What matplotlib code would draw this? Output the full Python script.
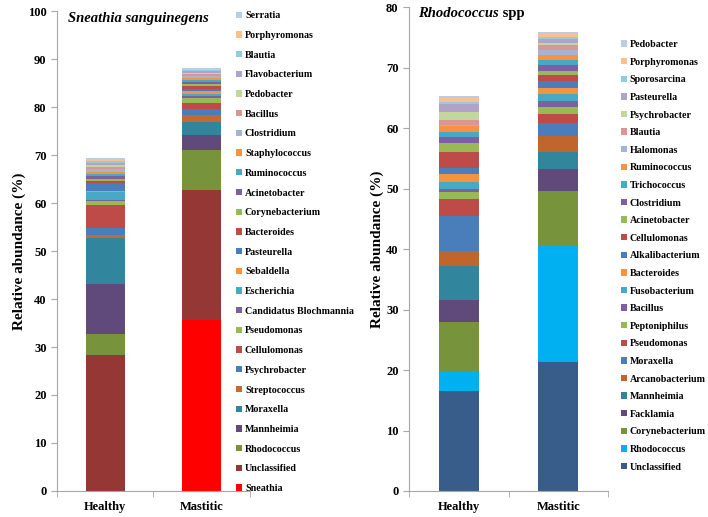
import numpy as np
import matplotlib.pyplot as plt

plt.rcParams['font.family'] = ['Liberation Serif', 'DejaVu Serif']
plt.rcParams['font.weight'] = 'bold'

groups = ['Healthy', 'Mastitic']

# left panel - Sneathia sanguinegens (bottom to top of the stack)
taxa_s = ['Sneathia', 'Unclassified', 'Rhodococcus', 'Mannheimia', 'Moraxella',
          'Streptococcus', 'Psychrobacter', 'Cellulomonas', 'Pseudomonas',
          'Candidatus Blochmannia', 'Escherichia', 'Sebaldella', 'Pasteurella',
          'Bacteroides', 'Corynebacterium', 'Acinetobacter', 'Ruminococcus',
          'Staphylococcus', 'Clostridium', 'Bacillus', 'Pedobacter',
          'Flavobacterium', 'Blautia', 'Porphyromonas', 'Serratia']
healthy_s = [0.0, 28.3, 4.4, 10.5, 9.6, 0.5, 1.5, 4.8, 0.8, 0.2, 1.7, 0.1, 1.7,
             0.5, 0.5, 0.6, 0.4, 0.4, 0.5, 0.5, 0.5, 0.4, 0.3, 0.5, 0.2]
mastitic_s = [35.7, 27.0, 8.4, 3.1, 2.7, 1.4, 1.3, 1.3, 0.9, 0.5, 0.5, 0.5, 0.5,
              0.5, 0.5, 0.4, 0.4, 0.4, 0.4, 0.4, 0.3, 0.3, 0.3, 0.3, 0.2]
colors_s = ['#FF0000', '#953735', '#77933C', '#604A7B', '#31859C', '#C6692C',
            '#4A7EBB', '#BE4B48', '#98B954', '#7D60A0', '#46AAC5', '#F69240',
            '#4A7EBB', '#BE4B48', '#98B954', '#7D60A0', '#46AAC5', '#F69240',
            '#A5B4D3', '#D99694', '#C3D69B', '#B3A2C7', '#93CDDD', '#FAC090',
            '#B9CDE5']

# right panel - Rhodococcus spp
taxa_r = ['Unclassified', 'Rhodococcus', 'Corynebacterium', 'Facklamia',
          'Mannheimia', 'Arcanobacterium', 'Moraxella', 'Pseudomonas',
          'Peptoniphilus', 'Bacillus', 'Fusobacterium', 'Bacteroides',
          'Alkalibacterium', 'Cellulomonas', 'Acinetobacter', 'Clostridium',
          'Trichococcus', 'Ruminococcus', 'Halomonas', 'Blautia',
          'Psychrobacter', 'Pasteurella', 'Sporosarcina', 'Porphyromonas',
          'Pedobacter']
healthy_r = [16.5, 3.2, 8.3, 3.6, 5.6, 2.5, 5.8, 2.7, 1.3, 0.5, 1.1, 1.3, 1.0,
             2.6, 1.6, 1.0, 0.7, 1.0, 0.2, 0.8, 1.3, 1.3, 0.4, 0.7, 0.3]
mastitic_r = [21.3, 19.2, 9.1, 3.7, 2.7, 2.7, 2.1, 1.5, 1.1, 1.1, 1.1, 1.0, 1.1,
              1.0, 0.8, 0.9, 0.8, 0.9, 0.8, 0.8, 0.4, 0.6, 0.4, 0.4, 0.3]
colors_r = ['#385D8A', '#00B0F0', '#77933C', '#604A7B', '#31859C', '#C0652B',
            '#4A7EBB', '#BE4B48', '#98B954', '#7D60A0', '#46AAC5', '#F69240',
            '#4A7EBB', '#BE4B48', '#98B954', '#7D60A0', '#46AAC5', '#F69240',
            '#A5B4D3', '#D99694', '#C3D69B', '#B3A2C7', '#93CDDD', '#FAC090',
            '#B9CDE5']


def draw_panel(ax, taxa, healthy, mastitic, colors, ymax, leg_xy, leg_space):
    x = np.arange(len(groups))
    bottom = np.zeros(len(groups))
    for name, h, m, c in zip(taxa, healthy, mastitic, colors):
        vals = np.array([h, m])
        ax.bar(x, vals, 0.4, bottom=bottom, color=c, label=name)
        bottom += vals
    ax.set_xlim(-0.5, 1.5)
    ax.set_ylim(0, ymax)
    ax.set_yticks(np.arange(0, ymax + 1, 10))
    ax.set_xticks(x)
    ax.set_xticklabels(groups, fontsize=9)
    ax.set_xticks([-0.5, 0.5, 1.5], minor=True)
    ax.tick_params(axis='x', which='major', length=0, pad=7)
    ax.tick_params(axis='x', which='minor', length=4, color='#A6A6A6')
    ax.tick_params(axis='y', length=4, color='#A6A6A6', labelsize=9)
    for s in ['top', 'right']:
        ax.spines[s].set_visible(False)
    for s in ['left', 'bottom']:
        ax.spines[s].set_color('#A6A6A6')
    ax.set_ylabel('Relative abundance (%)', fontsize=11, fontweight='bold', labelpad=1.5)
    handles, labels = ax.get_legend_handles_labels()
    ax.legend(handles[::-1], labels[::-1], loc='upper left', bbox_to_anchor=leg_xy,
              frameon=False, fontsize=7.2, handlelength=0.6, handleheight=0.6,
              handletextpad=0.25, labelspacing=leg_space, borderpad=0)


fig = plt.figure(figsize=(7.08, 5.17), dpi=100)
ax1 = fig.add_axes([0.0805, 0.0503, 0.2726, 0.9284])
ax2 = fig.add_axes([0.5777, 0.0503, 0.2811, 0.936])

draw_panel(ax1, taxa_s, healthy_s, mastitic_s, colors_s, 100, (0.904, 1.010), 1.07)
draw_panel(ax2, taxa_r, healthy_r, mastitic_r, colors_r, 80, (1.04, 0.942), 0.86)

ax1.text(0.057, 0.985, 'Sneathia sanguinegens', transform=ax1.transAxes,
         fontsize=10.5, style='italic', weight='bold', va='center')
t = ax2.text(0.045, 0.986, 'Rhodococcus', transform=ax2.transAxes,
             fontsize=10.5, style='italic', weight='bold', va='center')
ax2.annotate(' spp', xy=(1, 0), xycoords=t, va='bottom', fontsize=10.5, weight='bold')

fig.savefig('out.png', dpi=100)
